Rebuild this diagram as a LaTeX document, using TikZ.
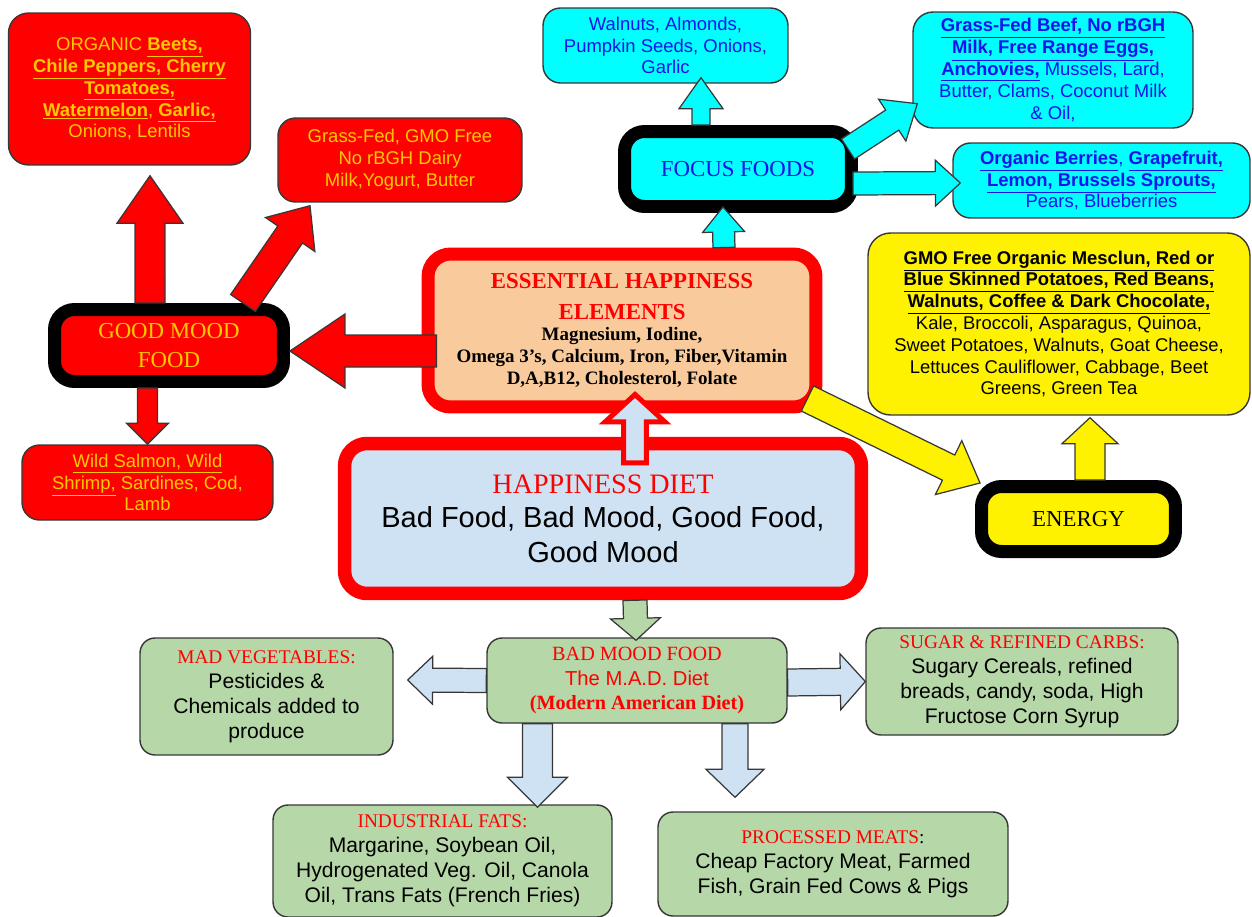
\documentclass[tikz,border=0pt]{standalone}
\usepackage{fontspec}
\setmainfont{Liberation Sans}
\newfontfamily\titlefont{Liberation Serif}
\usetikzlibrary{calc}

\definecolor{moodgold}{RGB}{255,200,0}
\definecolor{peach}{RGB}{249,203,156}
\definecolor{paleblue}{RGB}{207,226,243}
\definecolor{sage}{RGB}{182,215,168}
\definecolor{aqua}{RGB}{0,255,255}
\definecolor{textblue}{RGB}{20,20,235}
\definecolor{edge}{RGB}{55,55,55}

\tikzset{
    box/.style={rounded corners=0.35cm, draw=edge, line width=0.8pt, align=center, inner sep=0pt},
    redbox/.style={box, fill=red, text=moodgold, font=\fontsize{10.5}{12.4}\selectfont},
    cyanbox/.style={box, fill=aqua, text=textblue, font=\fontsize{10.5}{12.4}\selectfont},
    yellowbox/.style={box, fill=yellow, font=\fontsize{10.5}{12.4}\selectfont},
    greenbox/.style={box, rounded corners=0.3cm, fill=sage, font=\fontsize{12}{14.2}\selectfont},
    heavyred/.style={rounded corners=0.45cm, draw=red, line width=0.26cm, align=center, inner sep=0pt},
    heavyblack/.style={rounded corners=0.4cm, draw=black, line width=0.26cm, align=center, inner sep=0pt, font=\titlefont\fontsize{13}{16}\selectfont},
    blockarrow/.style={draw=edge, line width=0.7pt, line join=miter},
}

% fat arrow from #2 to #3: shaft half width #4, head half width #5, head length #6
\newcommand{\blockarrow}[6][]{%
    \coordinate (ba s) at (#2);
    \coordinate (ba t) at (#3);
    \coordinate (ba h) at ($(ba t)!#6!(ba s)$);
    \draw[blockarrow,#1] ($(ba s)!#4!90:(ba t)$) -- ($(ba h)!#4!-90:(ba s)$) -- ($(ba h)!#5!-90:(ba s)$) -- (ba t)
        -- ($(ba h)!#5!90:(ba s)$) -- ($(ba h)!#4!90:(ba s)$) -- ($(ba s)!#4!-90:(ba t)$) -- cycle;}

\newcommand{\head}[1]{{\titlefont #1}}

\begin{document}
\begin{tikzpicture}[x=0.02cm, y=-0.02cm]
    \useasboundingbox (0,0) rectangle (1252,917);

    % good mood side
    \node at (129.5,89) [redbox, minimum width=4.84cm, minimum height=3.04cm, rounded corners=0.4cm] (Organic) {ORGANIC \underline{\textbf{Beets,}}\\\underline{\textbf{Chile Peppers, Cherry}}\\\underline{\textbf{Tomatoes,}}\\\underline{\textbf{Watermelon}}, \underline{\textbf{Garlic,}}\\Onions, Lentils};
    \node at (400,160) [redbox, minimum width=4.88cm, minimum height=1.68cm] (Grass Fed) {Grass-Fed, GMO Free\\No rBGH Dairy\\Milk,Yogurt, Butter};
    \node at (169,345.5) [heavyblack, fill=red, text=moodgold, minimum width=4.58cm, minimum height=1.44cm] (Good Mood Food) {GOOD MOOD\\FOOD};
    \node at (147.5,482.5) [redbox, minimum width=5.02cm, minimum height=1.5cm] (Wild Salmon) {\underline{Wild Salmon, Wild}\\\underline{Shrimp,} Sardines, Cod,\\Lamb};

    % centre
    \node at (622,330.5) [heavyred, fill=peach, minimum width=7.76cm, minimum height=3.06cm, font=\titlefont\bfseries\fontsize{10.8}{12.5}\selectfont] (Essential) {{\color{red}\fontsize{13}{16}\selectfont ESSENTIAL HAPPINESS}\\[5pt]{\color{red}\fontsize{13}{16}\selectfont ELEMENTS}\\Magnesium, Iodine,\\Omega 3’s, Calcium, Iron, Fiber,Vitamin\\D,A,B12, Cholesterol, Folate};
    \node at (603,518.5) [heavyred, line width=0.27cm, fill=paleblue, minimum width=10.34cm, minimum height=3.0cm, font=\fontsize{16.5}{19.6}\selectfont] (Happiness Diet) {\head{\color{red}\fontsize{16}{19.6}\selectfont HAPPINESS DIET}\\Bad Food, Bad Mood, Good Food,\\Good Mood};

    % focus foods
    \node at (738,169) [heavyblack, fill=aqua, text=textblue, minimum width=4.54cm, minimum height=1.5cm] (Focus Foods) {FOCUS FOODS};
    \node at (665.5,45.5) [cyanbox, minimum width=4.9cm, minimum height=1.5cm] (Walnuts) {Walnuts, Almonds,\\Pumpkin Seeds, Onions,\\Garlic};
    \node at (1053,70) [cyanbox, minimum width=5.6cm, minimum height=2.32cm, rounded corners=0.4cm] (Beef) {\underline{\textbf{Grass-Fed Beef, No rBGH}}\\\underline{\textbf{Milk, Free Range Eggs,}}\\\underline{\textbf{Anchovies,}} Mussels, Lard,\\Butter, Clams, Coconut Milk\\\& Oil,};
    \node at (1101.5,180.5) [cyanbox, minimum width=5.94cm, minimum height=1.5cm] (Berries) {\underline{\textbf{Organic Berries}}, \underline{\textbf{Grapefruit,}}\\\underline{\textbf{Lemon, Brussels Sprouts,}}\\Pears, Blueberries};

    % energy
    \node at (1059,324) [yellowbox, minimum width=7.64cm, minimum height=3.64cm, rounded corners=0.45cm] (Greens) {\underline{\textbf{GMO Free Organic Mesclun, Red or}}\\\underline{\textbf{Blue Skinned Potatoes, Red Beans,}}\\\underline{\textbf{Walnuts, Coffee \& Dark Chocolate,}}\\Kale, Broccoli, Asparagus, Quinoa,\\Sweet Potatoes, Walnuts, Goat Cheese,\\Lettuces Cauliflower, Cabbage, Beet\\Greens, Green Tea};
    \node at (1078.5,519) [heavyblack, fill=yellow, minimum width=3.88cm, minimum height=1.3cm] (Energy) {ENERGY};

    % bad mood side
    \node at (637,680.5) [greenbox, text=red, minimum width=6.0cm, minimum height=1.7cm, font=\fontsize{11.5}{14}\selectfont] (Bad Mood Food) {\head{BAD MOOD FOOD}\\The M.A.D. Diet\\\head{\bfseries (Modern American Diet)}};
    \node at (266.5,696.5) [greenbox, minimum width=5.06cm, minimum height=2.34cm] (Mad Vegetables) {\head{\color{red}\fontsize{11}{14}\selectfont MAD VEGETABLES:}\\Pesticides \&\\Chemicals added to\\produce};
    \node at (1022,681.5) [greenbox, minimum width=6.24cm, minimum height=2.14cm] (Sugar) {\head{\color{red}\fontsize{11}{14}\selectfont SUGAR \& REFINED CARBS:}\\Sugary Cereals, refined\\breads, candy, soda, High\\Fructose Corn Syrup};
    \node at (442.5,861) [greenbox, minimum width=6.78cm, minimum height=2.24cm] (Industrial Fats) {\head{\color{red}\fontsize{11}{14}\selectfont INDUSTRIAL FATS:}\\Margarine, Soybean Oil,\\Hydrogenated Veg. Oil, Canola\\Oil, Trans Fats (French Fries)};
    \node at (833,864) [greenbox, minimum width=7.0cm, minimum height=2.08cm] (Processed Meats) {\head{\fontsize{11}{14}\selectfont{\color{red}PROCESSED MEATS}:}\\Cheap Factory Meat, Farmed\\Fish, Grain Fed Cows \& Pigs};

    % red arrows round good mood food
    \blockarrow[fill=red]{[xshift=-0.38cm]Good Mood Food.north}{[xshift=0.41cm,yshift=-0.2cm]Organic.south}{0.3cm}{0.66cm}{0.95cm}
    \blockarrow[fill=red]{[xshift=1.48cm]Good Mood Food.north}{[xshift=-1.8cm,yshift=-0.06cm]Grass Fed.south}{0.3cm}{0.6cm}{0.7cm}
    \blockarrow[fill=red]{[xshift=0.3cm,yshift=-0.41cm]Essential.west}{[yshift=-0.11cm]Good Mood Food.east}{0.32cm}{0.74cm}{1.1cm}
    \blockarrow[fill=red]{[xshift=-0.43cm]Good Mood Food.south}{Wild Salmon.north}{0.2cm}{0.42cm}{0.42cm}

    % happiness diet up to the elements
    \blockarrow[fill=paleblue, draw=red, line width=0.1cm]{[xshift=0.64cm,yshift=-0.52cm]Happiness Diet.north}{[xshift=0.26cm,yshift=0.38cm]Essential.south}{0.23cm}{0.6cm}{0.55cm}

    % cyan arrows
    \blockarrow[fill=aqua]{[xshift=2.04cm]Essential.north}{[xshift=-0.3cm,yshift=0.12cm]Focus Foods.south}{0.22cm}{0.42cm}{0.5cm}
    \blockarrow[fill=aqua]{[xshift=-0.74cm]Focus Foods.north}{[xshift=0.71cm,yshift=0.12cm]Walnuts.south}{0.18cm}{0.44cm}{0.62cm}
    \blockarrow[fill=aqua]{[xshift=-0.2cm,yshift=0.4cm]Focus Foods.east}{[xshift=0.1cm,yshift=0.5cm]Beef.south west}{0.24cm}{0.5cm}{0.6cm}
    \blockarrow[fill=aqua]{[xshift=-0.1cm,yshift=-0.29cm]Focus Foods.east}{[xshift=0.16cm,yshift=-0.05cm]Berries.west}{0.23cm}{0.46cm}{0.5cm}

    % yellow arrows
    \blockarrow[fill=yellow]{[xshift=-0.3cm,yshift=0.3cm]Essential.south east}{[xshift=0.1cm,yshift=-0.06cm]Energy.north west}{0.28cm}{0.6cm}{0.7cm}
    \blockarrow[fill=yellow]{[xshift=0.23cm]Energy.north}{[xshift=0.62cm,yshift=-0.04cm]Greens.south}{0.3cm}{0.56cm}{0.52cm}

    % green and pale blue arrows
    \blockarrow[fill=sage]{[xshift=0.64cm]Happiness Diet.south}{[xshift=-0.02cm,yshift=-0.06cm]Bad Mood Food.north}{0.24cm}{0.5cm}{0.44cm}
    \blockarrow[fill=paleblue]{Bad Mood Food.west}{[xshift=0.28cm,yshift=0.33cm]Mad Vegetables.east}{0.24cm}{0.48cm}{0.5cm}
    \blockarrow[fill=paleblue]{[yshift=-0.04cm]Bad Mood Food.east}{Sugar.west}{0.27cm}{0.56cm}{0.5cm}
    \blockarrow[fill=paleblue]{[xshift=-1.99cm]Bad Mood Food.south}{[xshift=1.9cm,yshift=-0.06cm]Industrial Fats.north}{0.3cm}{0.6cm}{0.6cm}
    \blockarrow[fill=paleblue]{[xshift=1.96cm]Bad Mood Food.south}{[xshift=-1.96cm,yshift=0.28cm]Processed Meats.north}{0.26cm}{0.58cm}{0.56cm}
\end{tikzpicture}
\end{document}
